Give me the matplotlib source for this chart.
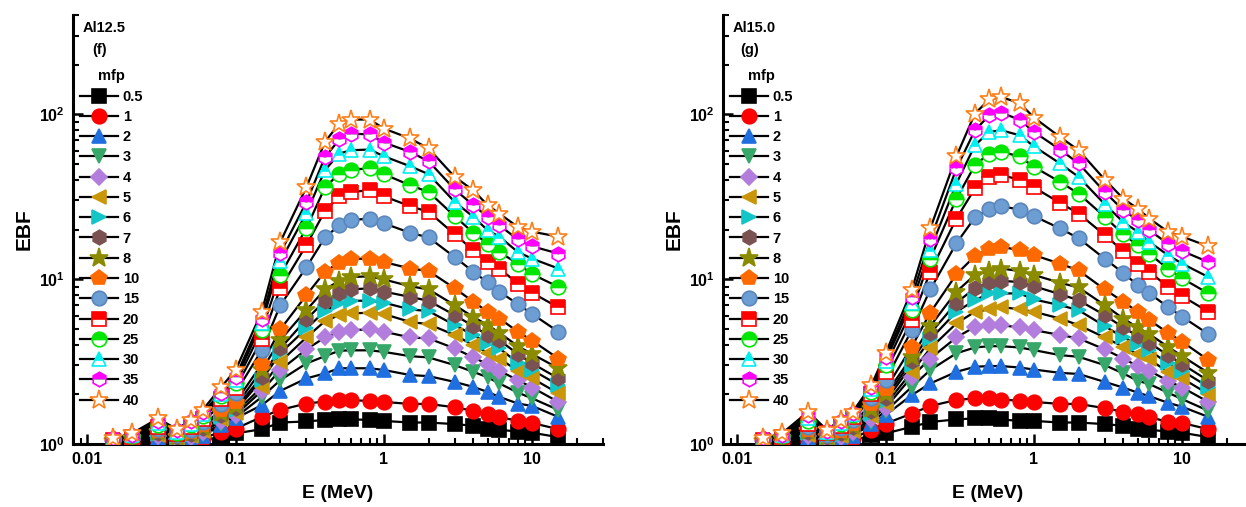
import math
import matplotlib
matplotlib.use("Agg")
import matplotlib.pyplot as plt
from matplotlib.lines import Line2D
from matplotlib.ticker import FixedLocator, FuncFormatter, LogLocator, NullFormatter

plt.rcParams['font.family'] = ['Liberation Sans', 'DejaVu Sans']
plt.rcParams['font.weight'] = 'bold'
plt.rcParams['mathtext.fontset'] = 'custom'
plt.rcParams['mathtext.rm'] = 'Liberation Sans:bold'
plt.rcParams['mathtext.bf'] = 'Liberation Sans:bold'

# photon energies (MeV)
energy = [0.015, 0.02, 0.03, 0.04, 0.05, 0.06, 0.08, 0.1, 0.15, 0.2, 0.3, 0.4, 0.5,
          0.6, 0.8, 1, 1.5, 2, 3, 4, 5, 6, 8, 10, 15]
mfp_labels = ['0.5', '1', '2', '3', '4', '5', '6', '7', '8', '10', '15', '20', '25', '30', '35', '40']

# panel (f) Al12.5
f_05 = [1.01, 1.02, 1.03, 1.02, 1.03, 1.05, 1.11, 1.16, 1.23, 1.35, 1.37, 1.40, 1.41, 1.41, 1.40, 1.38, 1.35, 1.35, 1.32, 1.29, 1.24, 1.22, 1.19, 1.17, 1.10]
f_1 = [1.02, 1.03, 1.05, 1.03, 1.05, 1.08, 1.19, 1.24, 1.46, 1.61, 1.76, 1.81, 1.85, 1.85, 1.82, 1.80, 1.75, 1.75, 1.67, 1.59, 1.52, 1.46, 1.38, 1.34, 1.23]
f_2 = [1.03, 1.05, 1.08, 1.05, 1.07, 1.12, 1.30, 1.43, 1.72, 2.10, 2.50, 2.68, 2.88, 2.88, 2.88, 2.81, 2.62, 2.58, 2.38, 2.22, 2.07, 1.93, 1.76, 1.70, 1.46]
f_3 = [1.03, 1.06, 1.10, 1.06, 1.09, 1.15, 1.32, 1.45, 1.93, 2.44, 3.08, 3.41, 3.68, 3.70, 3.70, 3.62, 3.41, 3.35, 3.01, 2.74, 2.54, 2.33, 2.05, 1.89, 1.61]
f_4 = [1.04, 1.06, 1.12, 1.07, 1.10, 1.18, 1.38, 1.50, 2.10, 2.81, 3.75, 4.43, 4.80, 4.91, 4.95, 4.80, 4.43, 4.37, 3.80, 3.35, 3.05, 2.78, 2.44, 2.20, 1.80]
f_5 = [1.04, 1.07, 1.14, 1.08, 1.12, 1.20, 1.42, 1.55, 2.22, 3.15, 4.43, 5.56, 6.05, 6.20, 6.25, 6.14, 5.50, 5.33, 4.58, 3.98, 3.58, 3.30, 2.78, 2.50, 2.03]
f_6 = [1.04, 1.07, 1.15, 1.09, 1.13, 1.22, 1.45, 1.60, 2.45, 3.55, 5.02, 6.40, 7.12, 7.39, 7.40, 7.20, 6.55, 6.40, 5.26, 4.58, 4.11, 3.80, 3.11, 2.81, 2.28]
f_7 = [1.05, 1.08, 1.17, 1.10, 1.15, 1.25, 1.50, 1.65, 2.56, 3.80, 5.70, 7.39, 8.26, 8.66, 8.80, 8.40, 7.80, 7.39, 6.05, 5.19, 4.58, 4.27, 3.51, 3.08, 2.50]
f_8 = [1.05, 1.08, 1.18, 1.10, 1.16, 1.27, 1.55, 1.70, 2.81, 4.27, 6.49, 8.66, 9.77, 10.3, 10.4, 9.95, 9.06, 8.66, 6.95, 5.90, 5.26, 4.73, 3.92, 3.51, 2.88]
f_10 = [1.05, 1.09, 1.20, 1.12, 1.18, 1.30, 1.61, 1.80, 3.05, 4.95, 8.0, 11.1, 12.6, 13.3, 13.3, 12.7, 11.6, 11.2, 8.8, 7.3, 6.34, 5.77, 4.80, 4.23, 3.30]
f_15 = [1.06, 1.10, 1.23, 1.13, 1.22, 1.36, 1.75, 2.05, 3.71, 6.95, 11.8, 17.9, 21.2, 22.8, 23.3, 21.8, 19.1, 17.9, 13.6, 11.1, 9.55, 8.4, 7.05, 6.14, 4.8]
f_20 = [1.06, 1.11, 1.26, 1.15, 1.26, 1.42, 1.87, 2.20, 4.31, 8.8, 16.1, 25.9, 31.8, 33.8, 34.6, 31.8, 27.7, 25.6, 18.7, 15.0, 12.7, 11.6, 9.4, 8.26, 6.73]
f_25 = [1.07, 1.12, 1.30, 1.17, 1.30, 1.48, 1.95, 2.33, 4.91, 10.6, 20.4, 36.0, 43.7, 46.2, 46.9, 43.3, 37.1, 33.8, 24.1, 19.1, 16.4, 14.6, 12.4, 10.7, 8.98]
f_30 = [1.07, 1.13, 1.34, 1.19, 1.33, 1.52, 2.00, 2.45, 5.4, 12.8, 25.1, 45.8, 57.8, 60.5, 61.1, 55.6, 48.4, 43.3, 29.4, 23.9, 19.8, 18.1, 14.6, 13.3, 11.6]
f_35 = [1.08, 1.14, 1.38, 1.21, 1.37, 1.56, 2.05, 2.56, 5.77, 14.4, 29.3, 54.9, 70.3, 76.4, 75.4, 67.4, 59.1, 51.9, 35.0, 28.1, 23.9, 21.2, 17.4, 15.8, 14.3]
f_40 = [1.08, 1.16, 1.43, 1.23, 1.40, 1.61, 2.22, 2.81, 6.34, 16.8, 36.1, 68.0, 87.8, 92.9, 92.9, 81.9, 71.3, 62.0, 41.7, 34.6, 28.1, 25.0, 20.7, 19.4, 18.1]

# panel (g) Al15.0
g_05 = [1.01, 1.02, 1.03, 1.02, 1.03, 1.05, 1.13, 1.16, 1.27, 1.36, 1.41, 1.43, 1.43, 1.41, 1.38, 1.38, 1.35, 1.35, 1.32, 1.29, 1.24, 1.22, 1.19, 1.17, 1.10]
g_1 = [1.02, 1.03, 1.05, 1.03, 1.05, 1.08, 1.22, 1.33, 1.53, 1.70, 1.85, 1.89, 1.89, 1.86, 1.83, 1.80, 1.75, 1.75, 1.65, 1.57, 1.52, 1.46, 1.36, 1.34, 1.23]
g_2 = [1.03, 1.05, 1.08, 1.05, 1.07, 1.12, 1.32, 1.50, 1.98, 2.33, 2.74, 2.94, 2.97, 2.97, 2.91, 2.83, 2.70, 2.66, 2.38, 2.20, 2.05, 1.95, 1.78, 1.68, 1.46]
g_3 = [1.03, 1.06, 1.10, 1.06, 1.09, 1.15, 1.36, 1.58, 2.22, 2.81, 3.55, 3.85, 3.92, 3.92, 3.85, 3.71, 3.46, 3.38, 3.01, 2.68, 2.42, 2.31, 2.05, 1.87, 1.59]
g_4 = [1.04, 1.06, 1.12, 1.07, 1.10, 1.18, 1.42, 1.66, 2.56, 3.30, 4.43, 5.14, 5.26, 5.26, 5.09, 4.91, 4.58, 4.37, 3.75, 3.30, 2.97, 2.78, 2.42, 2.20, 1.80]
g_5 = [1.04, 1.07, 1.14, 1.08, 1.12, 1.20, 1.47, 1.74, 2.74, 3.80, 5.39, 6.34, 6.55, 6.79, 6.55, 6.34, 5.77, 5.26, 4.43, 3.89, 3.51, 3.26, 2.74, 2.50, 2.01]
g_6 = [1.04, 1.07, 1.16, 1.09, 1.14, 1.23, 1.52, 1.82, 3.01, 4.31, 6.34, 7.45, 8.19, 8.19, 8.19, 7.53, 6.95, 6.48, 5.19, 4.43, 4.04, 3.71, 3.08, 2.78, 2.22]
g_7 = [1.05, 1.08, 1.18, 1.10, 1.16, 1.26, 1.58, 1.90, 3.20, 4.68, 7.2, 8.8, 9.6, 9.77, 9.6, 9.06, 8.1, 7.45, 6.05, 5.09, 4.52, 4.11, 3.46, 3.05, 2.42]
g_8 = [1.05, 1.08, 1.20, 1.11, 1.18, 1.29, 1.64, 2.00, 3.38, 5.19, 8.4, 10.6, 11.2, 11.6, 11.2, 10.6, 9.5, 8.9, 6.95, 5.77, 5.09, 4.64, 3.89, 3.41, 2.70]
g_10 = [1.05, 1.09, 1.22, 1.12, 1.20, 1.33, 1.75, 2.15, 3.89, 6.27, 10.7, 13.8, 15.3, 15.7, 15.0, 14.0, 12.4, 11.3, 8.66, 7.3, 6.34, 5.64, 4.73, 4.17, 3.23]
g_15 = [1.06, 1.10, 1.27, 1.14, 1.25, 1.40, 1.90, 2.45, 4.91, 8.66, 16.5, 23.7, 26.8, 27.7, 26.4, 24.1, 20.3, 17.7, 13.3, 10.9, 9.2, 8.19, 6.79, 5.91, 4.64]
g_20 = [1.06, 1.11, 1.32, 1.16, 1.29, 1.46, 2.00, 2.75, 5.64, 11.1, 23.3, 35.5, 41.7, 42.7, 40.2, 36.0, 29.0, 25.0, 18.5, 14.8, 12.4, 11.1, 8.98, 7.88, 6.34]
g_25 = [1.07, 1.12, 1.38, 1.18, 1.33, 1.50, 2.08, 3.00, 6.48, 13.3, 30.8, 49.1, 57.8, 59.1, 55.6, 47.9, 38.9, 33.0, 23.9, 18.7, 16.1, 14.2, 11.6, 10.1, 8.19]
g_30 = [1.07, 1.13, 1.43, 1.19, 1.35, 1.53, 2.15, 3.20, 7.2, 15.1, 38.0, 64.9, 78.1, 80.0, 74.6, 63.9, 50.3, 41.7, 28.5, 22.2, 19.4, 16.8, 14.0, 12.4, 10.3]
g_35 = [1.08, 1.14, 1.50, 1.20, 1.38, 1.55, 2.22, 3.35, 7.8, 17.4, 46.9, 80.0, 98.6, 102, 92.9, 78.1, 61.1, 50.3, 33.8, 26.2, 22.8, 19.8, 16.4, 14.8, 12.7]
g_40 = [1.08, 1.16, 1.57, 1.22, 1.40, 1.57, 2.27, 3.55, 8.59, 20.3, 55.6, 101, 123, 127, 117, 95.5, 72.8, 60.5, 40.2, 30.8, 26.8, 23.3, 19.4, 18.1, 15.8]

ebf_f = [f_05, f_1, f_2, f_3, f_4, f_5, f_6, f_7, f_8, f_10, f_15, f_20, f_25, f_30, f_35, f_40]
ebf_g = [g_05, g_1, g_2, g_3, g_4, g_5, g_6, g_7, g_8, g_10, g_15, g_20, g_25, g_30, g_35, g_40]

# marker styles per mfp
markers = ['s', 'o', '^', 'v', 'D', '<', '>', 'h', '*', 'p', 'o', 's', 'o', '^', 'h', '*']
colors = ['#000000', '#ff0000', '#1f6fe0', '#37a86a', '#b27ddc', '#c9960a', '#12c6c8', '#7a5252',
          '#8b8b00', '#ff6a00', '#6c9dd3', '#ff0000', '#00e600', '#00f0f0', '#ff00ff', '#ff7f1a']
sizes = [9.5, 10.5, 10.5, 10.5, 8.5, 10.5, 10.5, 10.5, 14, 11.5, 10.5, 9.5, 10.5, 10.5, 10.5, 14]
fills = ['full'] * 11 + ['top', 'top', 'top', 'top', 'none']


def style(i):
    kw = dict(marker=markers[i], markersize=sizes[i], markeredgewidth=1.2)
    if fills[i] == 'full':
        kw.update(markerfacecolor=colors[i], markeredgecolor=colors[i] if i != 10 else '#5a86bd')
    elif fills[i] == 'top':
        kw.update(fillstyle='top', markerfacecolor=colors[i], markerfacecoloralt='white',
                  markeredgecolor=colors[i])
    else:
        kw.update(markerfacecolor='white', markeredgecolor=colors[i])
    return kw


def draw_panel(ax, data, name, tag):
    for i, ys in enumerate(data):
        ax.plot(energy, ys, color='black', lw=1.6, zorder=2)
    for i, ys in enumerate(data):
        ax.plot(energy, ys, ls='none', zorder=3, **style(i))

    ax.set_xscale('log')
    ax.set_yscale('log')
    ax.set_xlim(0.008, 30)
    ax.set_ylim(1, 400)
    for s in ['top', 'right']:
        ax.spines[s].set_visible(False)
    for s in ['left', 'bottom']:
        ax.spines[s].set_linewidth(2.2)

    ax.xaxis.set_major_locator(FixedLocator([0.01, 0.1, 1, 10]))
    ax.xaxis.set_major_formatter(FuncFormatter(lambda v, p: '%g' % v))
    ax.xaxis.set_minor_locator(LogLocator(base=10, subs=range(2, 10), numticks=20))
    ax.xaxis.set_minor_formatter(NullFormatter())
    ax.yaxis.set_major_locator(FixedLocator([1, 10, 100]))
    ax.yaxis.set_major_formatter(FuncFormatter(lambda v, p: r'$10^{%d}$' % round(math.log10(v))))
    ax.yaxis.set_minor_locator(LogLocator(base=10, subs=range(2, 10), numticks=20))
    ax.yaxis.set_minor_formatter(NullFormatter())
    ax.tick_params(which='major', direction='in', length=7, width=1.8, labelsize=11.5, pad=6)
    ax.tick_params(which='minor', direction='in', length=4, width=1.5)

    ax.set_ylabel('EBF', fontsize=15, fontweight='bold')
    ax.yaxis.set_label_coords(-0.075, 0.5)
    ax.set_xlabel('E (MeV)', fontsize=14, fontweight='bold')
    ax.xaxis.set_label_coords(0.5, -0.095)

    ax.text(0.019, 0.970, name, transform=ax.transAxes, fontsize=10.5, fontweight='bold', va='center')
    ax.text(0.050, 0.918, tag, transform=ax.transAxes, fontsize=10.5, fontweight='bold', va='center', ha='center')
    ax.text(0.073, 0.858, 'mfp', transform=ax.transAxes, fontsize=10.5, fontweight='bold', va='center', ha='center')

    handles = [Line2D([], [], color='black', lw=1.6, **style(i)) for i in range(len(mfp_labels))]
    ax.legend(handles, mfp_labels, loc='upper left', bbox_to_anchor=(0.014, 0.826), frameon=False,
              fontsize=10.5, handlelength=2.6, handletextpad=0.3, labelspacing=0.43,
              borderpad=0, borderaxespad=0)


fig = plt.figure(figsize=(12.46, 5.07), dpi=100)
ax1 = fig.add_axes([73 / 1246, 63 / 507, 530 / 1246, 429 / 507])
ax2 = fig.add_axes([723 / 1246, 63 / 507, 530 / 1246, 429 / 507])
draw_panel(ax1, ebf_f, 'Al12.5', '(f)')
draw_panel(ax2, ebf_g, 'Al15.0', '(g)')

fig.savefig('out.png', dpi=100)
